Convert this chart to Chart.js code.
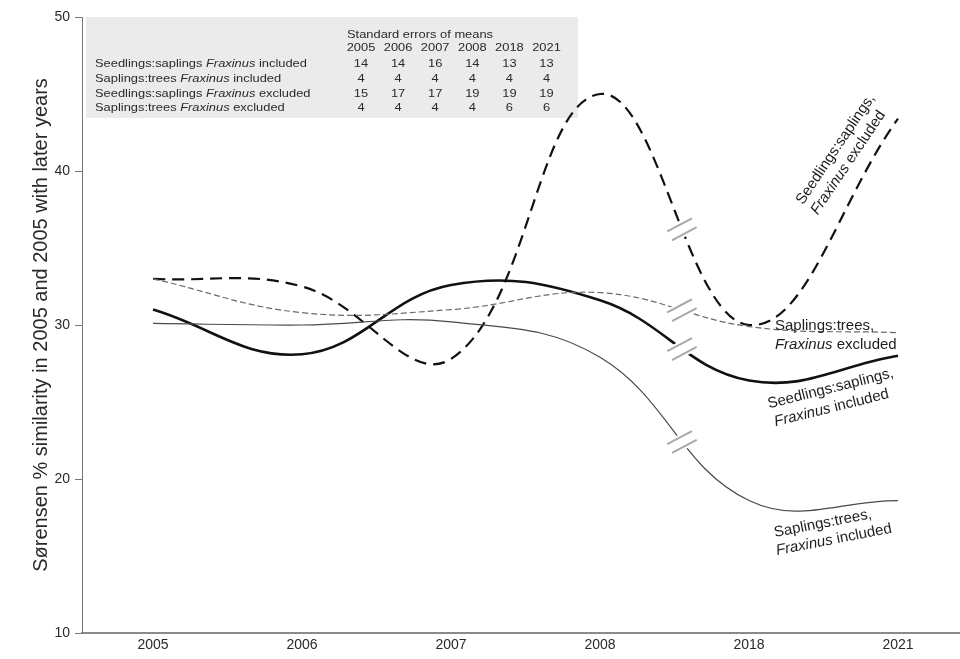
<!DOCTYPE html>
<html>
<head>
<meta charset="utf-8">
<script src="https://cdn.jsdelivr.net/npm/chart.js@4.4.1/dist/chart.umd.min.js"></script>
<style>
  html, body { margin: 0; padding: 0; background: #fff; }
  #wrap { width: 960px; height: 659px; }
</style>
</head>
<body>
<div id="wrap"><canvas id="c" width="960" height="659"></canvas></div>
<script>
// Survey years (category positions on the x axis)
const years = ['2005', '2006', '2007', '2008', '2018', '2021'];

// Sørensen similarity (%) for each comparison
const seedSapIncl = [31.0, 28.1, 32.6, 31.6, 26.4, 28.0];   // Seedlings:saplings, Fraxinus included
const sapTreeIncl = [30.1, 30.0, 30.2, 27.9, 18.6, 18.6];   // Saplings:trees, Fraxinus included
const seedSapExcl = [33.0, 32.5, 27.8, 45.0, 30.0, 43.4];   // Seedlings:saplings, Fraxinus excluded
const sapTreeExcl = [33.0, 30.8, 31.0, 32.1, 29.9, 29.5];   // Saplings:trees, Fraxinus excluded

// Standard errors of means, one row per comparison
const seRowLabels = [
  ['Seedlings:saplings ', 'Fraxinus', ' included'],
  ['Saplings:trees ', 'Fraxinus', ' included'],
  ['Seedlings:saplings ', 'Fraxinus', ' excluded'],
  ['Saplings:trees ', 'Fraxinus', ' excluded']
];
const seSeedSapIncl = [14, 14, 16, 14, 13, 13];
const seSapTreeIncl = [4, 4, 4, 4, 4, 4];
const seSeedSapExcl = [15, 17, 17, 19, 19, 19];
const seSapTreeExcl = [4, 4, 4, 4, 6, 6];

// y-axis range and tick step
const yMin = 10, yMax = 50, yStep = 10;

// axis break drawn between 2008 and 2018
const breakAt = 3.55;

const FONT = '"Liberation Sans", Arial, Helvetica, sans-serif';

function toPoints(vals) { return vals.map((v, i) => ({ x: i, y: v })); }

function cubic(p0, p1, p2, p3, t) {
  const m = 1 - t;
  return m * m * m * p0 + 3 * m * m * t * p1 + 3 * m * t * t * p2 + t * t * t * p3;
}

// y pixel of the drawn spline at a given x pixel
function curveY(meta, xPix) {
  const pts = meta.data;
  for (let i = 0; i < pts.length - 1; i++) {
    const a = pts[i], b = pts[i + 1];
    if (xPix >= a.x && xPix <= b.x) {
      let lo = 0, hi = 1;
      for (let k = 0; k < 40; k++) {
        const mid = (lo + hi) / 2;
        if (cubic(a.x, a.cp2x, b.cp1x, b.x, mid) < xPix) lo = mid; else hi = mid;
      }
      const t = (lo + hi) / 2;
      return cubic(a.y, a.cp2y, b.cp1y, b.y, t);
    }
  }
  return null;
}

// draws text made of [text, italic] parts
function richText(ctx, parts, x, y, size, align) {
  const widths = parts.map(p => {
    ctx.font = (p[1] ? 'italic ' : '') + size + 'px ' + FONT;
    return ctx.measureText(p[0]).width;
  });
  const total = widths.reduce((s, w) => s + w, 0);
  let cx = align === 'center' ? x - total / 2 : (align === 'right' ? x - total : x);
  ctx.textAlign = 'left';
  parts.forEach((p, i) => {
    ctx.font = (p[1] ? 'italic ' : '') + size + 'px ' + FONT;
    ctx.fillText(p[0], cx, y);
    cx += widths[i];
  });
}

// table of standard errors in the upper left of the plot
const seTable = {
  id: 'seTable',
  beforeDatasetsDraw(chart) {
    const ctx = chart.ctx, a = chart.chartArea;
    const left = a.left, top = a.top;
    const rows = [seSeedSapIncl, seSapTreeIncl, seSeedSapExcl, seSapTreeExcl];
    ctx.save();
    ctx.fillStyle = '#ebebeb';
    ctx.fillRect(left + 4, top, 492, 101);
    ctx.fillStyle = '#2a2a2a';
    ctx.textBaseline = 'alphabetic';
    const sx = 1.12, size = 11.5;
    const colX = i => left + 279 + i * 37.1;
    const rowY = r => top + 50 + r * 14.8;
    const put = (parts, x, y, align) => {
      ctx.save();
      ctx.translate(x, y);
      ctx.scale(sx, 1);
      richText(ctx, parts, 0, 0, size, align);
      ctx.restore();
    };
    put([['Standard errors of means', false]], left + 265, top + 20.5, 'left');
    years.forEach((yr, i) => put([[yr, false]], colX(i), top + 33.5, 'center'));
    rows.forEach((vals, r) => {
      const lab = seRowLabels[r];
      put([[lab[0], false], [lab[1], true], [lab[2], false]], left + 13, rowY(r), 'left');
      vals.forEach((v, i) => put([[String(v), false]], colX(i), rowY(r), 'center'));
    });
    ctx.restore();
  }
};

// axis-break marks on every line between 2008 and 2018
const breakMarks = {
  id: 'breakMarks',
  afterDatasetsDraw(chart) {
    const ctx = chart.ctx;
    const bx = chart.scales.x.getPixelForValue(breakAt);
    chart.data.datasets.forEach((ds, di) => {
      const y = curveY(chart.getDatasetMeta(di), bx);
      if (y === null) return;
      ctx.save();
      ctx.translate(bx, y);
      ctx.rotate(-28 * Math.PI / 180);
      ctx.fillStyle = '#ffffff';
      ctx.fillRect(-15, -8, 30, 16);
      ctx.strokeStyle = '#a9a9a9';
      ctx.lineWidth = 2;
      ctx.beginPath();
      ctx.moveTo(-14, -5); ctx.lineTo(14, -5);
      ctx.moveTo(-14, 5); ctx.lineTo(14, 5);
      ctx.stroke();
      ctx.restore();
    });
  }
};

// series names written next to the lines
const seriesNotes = [
  { x: 4.604, y: 41.26, rot: -56, align: 'center', size: 15,
    lines: [[['Seedlings:saplings,', false]], [['Fraxinus', true], [' excluded', false]]], dx: -4, dy: 18 },
  { x: 4.174, y: 29.65, rot: 0, align: 'left', size: 15,
    lines: [[['Saplings:trees,', false]], [['Fraxinus', true], [' excluded', false]]], dx: 0, dy: 19 },
  { x: 4.134, y: 24.59, rot: -14, align: 'left', size: 15,
    lines: [[['Seedlings:saplings,', false]], [['Fraxinus', true], [' included', false]]], dx: 2, dy: 19 },
  { x: 4.174, y: 16.23, rot: -11, align: 'left', size: 15,
    lines: [[['Saplings:trees,', false]], [['Fraxinus', true], [' included', false]]], dx: -1.5, dy: 18 }
];

const notesPlugin = {
  id: 'notes',
  afterDraw(chart) {
    const ctx = chart.ctx, xs = chart.scales.x, ys = chart.scales.y;
    ctx.save();
    ctx.fillStyle = '#1e1e1e';
    ctx.textBaseline = 'alphabetic';
    seriesNotes.forEach(n => {
      ctx.save();
      ctx.translate(xs.getPixelForValue(n.x), ys.getPixelForValue(n.y));
      ctx.rotate(n.rot * Math.PI / 180);
      richText(ctx, n.lines[0], 0, 0, n.size, n.align);
      richText(ctx, n.lines[1], n.dx, n.dy, n.size, n.align);
      ctx.restore();
    });
    ctx.restore();
  }
};

new Chart(document.getElementById('c'), {
  type: 'line',
  data: {
    datasets: [
      { label: 'Saplings:trees, Fraxinus included', data: toPoints(sapTreeIncl),
        borderColor: '#4a4a4a', borderWidth: 1.2 },
      { label: 'Saplings:trees, Fraxinus excluded', data: toPoints(sapTreeExcl),
        borderColor: '#6a6a6a', borderWidth: 1.2, borderDash: [6, 3] },
      { label: 'Seedlings:saplings, Fraxinus excluded', data: toPoints(seedSapExcl),
        borderColor: '#111111', borderWidth: 2.2, borderDash: [12, 7] },
      { label: 'Seedlings:saplings, Fraxinus included', data: toPoints(seedSapIncl),
        borderColor: '#111111', borderWidth: 2.6 }
    ]
  },
  options: {
    responsive: false,
    animation: false,
    events: [],
    layout: { padding: { top: 17, right: 0, left: 0, bottom: 0 } },
    elements: {
      point: { radius: 0 },
      line: { tension: 0.4, fill: false, borderCapStyle: 'butt' }
    },
    plugins: { legend: { display: false }, tooltip: { enabled: false } },
    scales: {
      x: {
        type: 'linear',
        min: -0.477,
        max: 5.416,
        afterBuildTicks: axis => { axis.ticks = years.map((_, i) => ({ value: i })); },
        afterFit: axis => { axis.height = 26; },
        ticks: {
          autoSkip: false,
          maxRotation: 0,
          padding: 4,
          color: '#2a2a2a',
          font: { family: FONT, size: 14 },
          callback: v => years[v]
        },
        grid: { drawOnChartArea: false, drawTicks: false },
        border: { display: true, color: '#8a8a8a', width: 2 }
      },
      y: {
        min: yMin,
        max: yMax,
        afterFit: axis => { axis.width = 82; },
        ticks: {
          stepSize: yStep,
          padding: 5,
          color: '#2a2a2a',
          font: { family: FONT, size: 14 }
        },
        grid: { drawOnChartArea: false, drawTicks: true, tickLength: 7, color: '#777777' },
        border: { display: true, color: '#777777', width: 1 },
        title: {
          display: true,
          text: 'Sørensen % similarity in 2005 and 2005 with later years',
          color: '#2a2a2a',
          font: { family: FONT, size: 20 },
          padding: { top: 29, bottom: 0 }
        }
      }
    }
  },
  plugins: [seTable, breakMarks, notesPlugin]
});
</script>
</body>
</html>
